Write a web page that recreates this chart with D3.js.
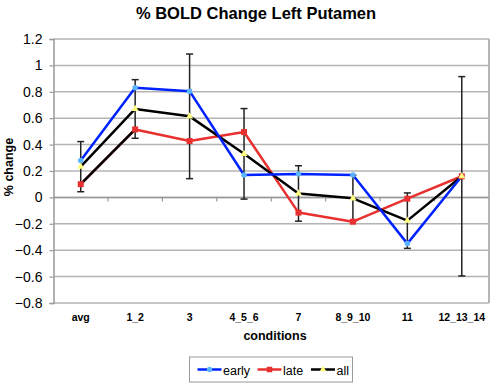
<!DOCTYPE html>
<html><head><meta charset="utf-8">
<script src="https://cdn.jsdelivr.net/npm/d3@7"></script>
<style>body{margin:0;background:#fff}svg{display:block;font-family:Arial,"Liberation Sans",sans-serif}</style>
</head><body><svg id="c" width="493" height="385"></svg>
<script>
const categories = ["avg","1_2","3","4_5_6","7","8_9_10","11","12_13_14"];
const early = [0.28,0.83,0.805,0.17,0.177,0.17,-0.35,0.16];
const late = [0.10,0.515,0.427,0.495,-0.115,-0.184,-0.01,0.16];
const all = [0.233,0.67,0.614,0.33,0.03,-0.007,-0.176,0.16];
const allErr = [0.19,0.222,0.472,0.343,0.21,0.175,0.21,0.755];
const yTicks = [-0.8,-0.6,-0.4,-0.2,0,0.2,0.4,0.6,0.8,1,1.2];

const svg = d3.select("#c");
const L=53.5, R=489, T=39, B=303;
const x = d3.scaleBand().domain(categories).range([L,R]);
const y = d3.scaleLinear().domain([-0.8,1.2]).range([B,T]);
const cx = d => x(d)+x.bandwidth()/2;

// gridlines
svg.append("g").selectAll("line").data(yTicks).join("line")
  .attr("x1",L).attr("x2",R).attr("y1",d=>y(d)).attr("y2",d=>y(d))
  .attr("stroke","#b4b4b4").attr("stroke-width",1.5);
// right border
svg.append("line").attr("x1",R).attr("x2",R).attr("y1",T).attr("y2",B).attr("stroke","#b4b4b4").attr("stroke-width",2);

// y axis
const ya = svg.append("g").attr("transform",`translate(${L},0)`)
  .call(d3.axisLeft(y).tickValues(yTicks).tickSize(4).tickPadding(7).tickFormat(d=>d3.format("")(+d.toFixed(1))));
ya.select(".domain").attr("stroke","#999").attr("stroke-width",1.5);
ya.selectAll(".tick line").attr("stroke","#999").attr("stroke-width",1.2);
ya.selectAll("text").attr("font-size",14).attr("fill","#000").attr("font-family","Arial, 'Liberation Sans', sans-serif");

// x axis at zero, ticks at band boundaries
svg.append("line").attr("x1",L).attr("x2",R).attr("y1",y(0)).attr("y2",y(0)).attr("stroke","#999").attr("stroke-width",1.5);
svg.append("g").selectAll("line").data(categories.slice(1)).join("line")
  .attr("x1",d=>x(d)).attr("x2",d=>x(d)).attr("y1",y(0)).attr("y2",y(0)+4)
  .attr("stroke","#999").attr("stroke-width",1.2);
svg.append("g").selectAll("text").data(categories).join("text")
  .attr("x",cx).attr("y",320.5).attr("text-anchor","middle")
  .attr("font-size",10.5).attr("font-weight","bold").text(d=>d);

// titles
svg.append("text").attr("x",256).attr("y",19).attr("text-anchor","middle")
  .attr("font-size",16.5).attr("font-weight","bold").text("% BOLD Change Left Putamen");
svg.append("text").attr("x",275).attr("y",340).attr("text-anchor","middle")
  .attr("font-size",12.5).attr("font-weight","bold").text("conditions");
svg.append("text").attr("transform","translate(13,167) rotate(-90)").attr("text-anchor","middle")
  .attr("font-size",12.5).attr("font-weight","bold").text("% change");

// error bars on "all"
const eb = svg.append("g").attr("stroke","#222").attr("stroke-width",1.5);
categories.forEach((c,i)=>{
  const top=y(all[i]+allErr[i]), bot=y(all[i]-allErr[i]), xc=cx(c);
  eb.append("line").attr("x1",xc).attr("x2",xc).attr("y1",top).attr("y2",bot);
  eb.append("line").attr("x1",xc-3.5).attr("x2",xc+3.5).attr("y1",top).attr("y2",top);
  eb.append("line").attr("x1",xc-3.5).attr("x2",xc+3.5).attr("y1",bot).attr("y2",bot);
});

const line = d3.line().x((d,i)=>cx(categories[i])).y(d=>y(d));
function drawSeries(vals,color,firstColor){
  const g = svg.append("g");
  g.append("path").attr("d",line(vals)).attr("fill","none").attr("stroke",color).attr("stroke-width",2.5).attr("stroke-linejoin","round");
  if(firstColor){
    g.append("line").attr("x1",cx(categories[0])).attr("y1",y(vals[0])).attr("x2",cx(categories[1])).attr("y2",y(vals[1]))
      .attr("stroke",firstColor).attr("stroke-width",2.5);
  }
  return g;
}
drawSeries(late,"#e8302f","#000");
drawSeries(all,"#000");
drawSeries(early,"#0022ff");

// markers
const sym = (type,size)=>d3.symbol().type(type).size(size)();
svg.append("g").selectAll("path").data(early).join("path")
  .attr("transform",(d,i)=>`translate(${cx(categories[i])},${y(d)})`).attr("d",sym(d3.symbolCircle,24)).attr("fill","#5cb4ff");
svg.append("g").selectAll("path").data(late).join("path")
  .attr("transform",(d,i)=>`translate(${cx(categories[i])},${y(d)})`).attr("d",sym(d3.symbolSquare,36)).attr("fill","#e83030");
svg.append("g").selectAll("path").data(all).join("path")
  .attr("transform",(d,i)=>`translate(${cx(categories[i])},${y(d)})`).attr("d",sym(d3.symbolTriangle,22)).attr("fill","#ffff80");

// legend
const lg = svg.append("g");
lg.append("rect").attr("x",189.5).attr("y",357).attr("width",163).attr("height",25).attr("fill","#fff").attr("stroke","#999").attr("stroke-width",1);
const items = [
  {name:"early",color:"#0022ff",mk:"#5cb4ff",type:d3.symbolCircle,size:22,x:197.5},
  {name:"late",color:"#e8302f",mk:"#e83030",type:d3.symbolSquare,size:30,x:257.5},
  {name:"all",color:"#000",mk:"#ffff80",type:d3.symbolTriangle,size:18,x:311}
];
items.forEach(it=>{
  lg.append("line").attr("x1",it.x).attr("x2",it.x+24).attr("y1",369.5).attr("y2",369.5).attr("stroke",it.color).attr("stroke-width",2.5);
  lg.append("path").attr("transform",`translate(${it.x+12},369.5)`).attr("d",sym(it.type,it.size)).attr("fill",it.mk);
  lg.append("text").attr("x",it.x+25.5).attr("y",374.5).attr("font-size",12.5).text(it.name);
});
</script></body></html>
